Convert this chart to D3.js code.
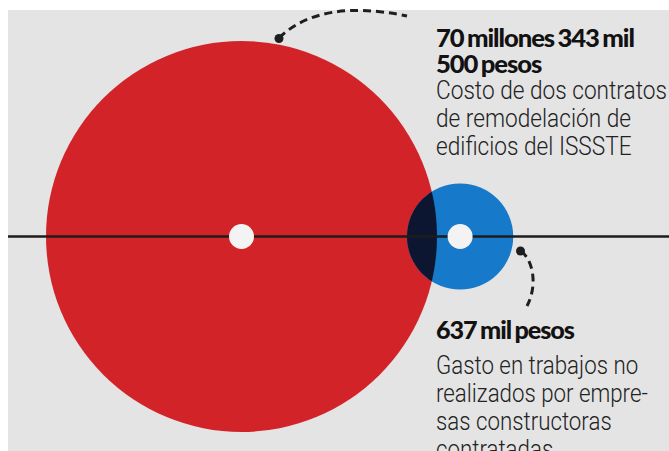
<!DOCTYPE html>
<html>
<head>
<meta charset="utf-8">
<script src="https://cdn.jsdelivr.net/npm/d3@7"></script>
<style>
  html, body { margin: 0; padding: 0; background: #fff; }
  svg { display: block; }
</style>
</head>
<body>
<div id="chart"></div>
<script>
// montos comparados (pesos)
var montos = [70343500, 637000];
var colores = ["#d22328", "#1679c9"];
var titulos = [["70 millones 343 mil", "500 pesos"], ["637 mil pesos"]];
var descripciones = [
  ["Costo de dos contratos", "de remodelación de", "edificios del ISSSTE"],
  ["Gasto en trabajos no", "realizados por empre-", "sas constructoras", "contratadas"]
];

var width = 669, height = 451;
var axisY = 236.5;
var overlap = 30;

var svg = d3.select("#chart").append("svg")
  .attr("width", width)
  .attr("height", height);

// fondo gris
svg.append("rect")
  .attr("x", 8).attr("y", 10)
  .attr("width", width - 8).attr("height", height - 10)
  .attr("fill", "#e4e4e4");

// radios - no es proporcional al area en el original, se aproxima con una potencia
var r = d3.scalePow().exponent(0.277)
  .domain([0, d3.max(montos)])
  .range([0, 195.5]);

var cx = [];
cx[0] = 46 + r(montos[0]);
cx[1] = cx[0] + r(montos[0]) + r(montos[1]) - overlap;

var defs = svg.append("defs");
defs.append("clipPath").attr("id", "clip-red")
  .append("circle")
  .attr("cx", cx[0]).attr("cy", axisY).attr("r", r(montos[0]));

svg.selectAll("circle.monto")
  .data(montos)
  .enter()
  .append("circle")
  .attr("class", "monto")
  .attr("cx", function (d, i) { return cx[i]; })
  .attr("cy", axisY)
  .attr("r", function (d) { return r(d); })
  .attr("fill", function (d, i) { return colores[i]; });

// interseccion
svg.append("circle")
  .attr("cx", cx[1]).attr("cy", axisY).attr("r", r(montos[1]))
  .attr("clip-path", "url(#clip-red)")
  .attr("fill", "#0c1631");

// eje
svg.append("line")
  .attr("x1", 8).attr("x2", width)
  .attr("y1", axisY).attr("y2", axisY)
  .attr("stroke", "#1d1d1d")
  .attr("stroke-width", 2.6);

// centros
svg.selectAll("circle.centro")
  .data(montos)
  .enter()
  .append("circle")
  .attr("class", "centro")
  .attr("cx", function (d, i) { return cx[i]; })
  .attr("cy", axisY)
  .attr("r", 12.5)
  .attr("fill", "#f3f3f3");

// lineas punteadas de las anotaciones
function leader(p, dot) {
  svg.append("path")
    .attr("d", p.toString())
    .attr("fill", "none")
    .attr("stroke", "#1e1e1e")
    .attr("stroke-width", 3)
    .attr("stroke-dasharray", "8,5");
  svg.append("circle")
    .attr("cx", dot[0]).attr("cy", dot[1]).attr("r", 4.5)
    .attr("fill", "#1e1e1e");
}

var p1 = d3.path();
p1.moveTo(279, 38);
p1.quadraticCurveTo(320, -2, 407, 16);
leader(p1, [279, 38.5]);

var p2 = d3.path();
p2.moveTo(521, 251);
p2.bezierCurveTo(533, 260, 538, 285, 527, 306);
leader(p2, [520.5, 251]);

// textos
function textBlock(lines, x, y0, lineH, opts) {
  var g = svg.append("g");
  var t = g.selectAll("text")
    .data(lines)
    .enter()
    .append("text")
    .attr("x", 0)
    .attr("y", function (d, i) { return y0 + i * lineH; })
    .style("font-family", opts.font)
    .style("font-weight", opts.weight)
    .style("font-size", opts.size + "px")
    .style("letter-spacing", opts.spacing + "px")
    .style("word-spacing", (opts.wordSpacing || 0) + "px")
    .attr("fill", opts.color)
    .text(function (d) { return d; });
  var w = t.nodes()[opts.ref].getComputedTextLength();
  var k = opts.refWidth / w;
  g.attr("transform", "translate(" + x + ",0) scale(" + k + ",1)");
}

var bold = { font: "Lato, Roboto, sans-serif", weight: 900, size: 24, spacing: -1, wordSpacing: -1.5, color: "#121212" };
var light = { font: "Roboto, 'Open Sans', sans-serif", weight: 300, size: 25, spacing: 0, color: "#222" };

textBlock(titulos[0], 436, 47.3, 25.4, Object.assign({}, bold, { ref: 0, refWidth: 198 }));
textBlock(descripciones[0], 436, 98.8, 28.2, Object.assign({}, light, { ref: 0, refWidth: 231 }));
textBlock(titulos[1], 436, 339.5, 28, Object.assign({}, bold, { ref: 0, refWidth: 138 }));
textBlock(descripciones[1], 436, 374, 28, Object.assign({}, light, { ref: 1, refWidth: 212 }));
</script>
</body>
</html>
